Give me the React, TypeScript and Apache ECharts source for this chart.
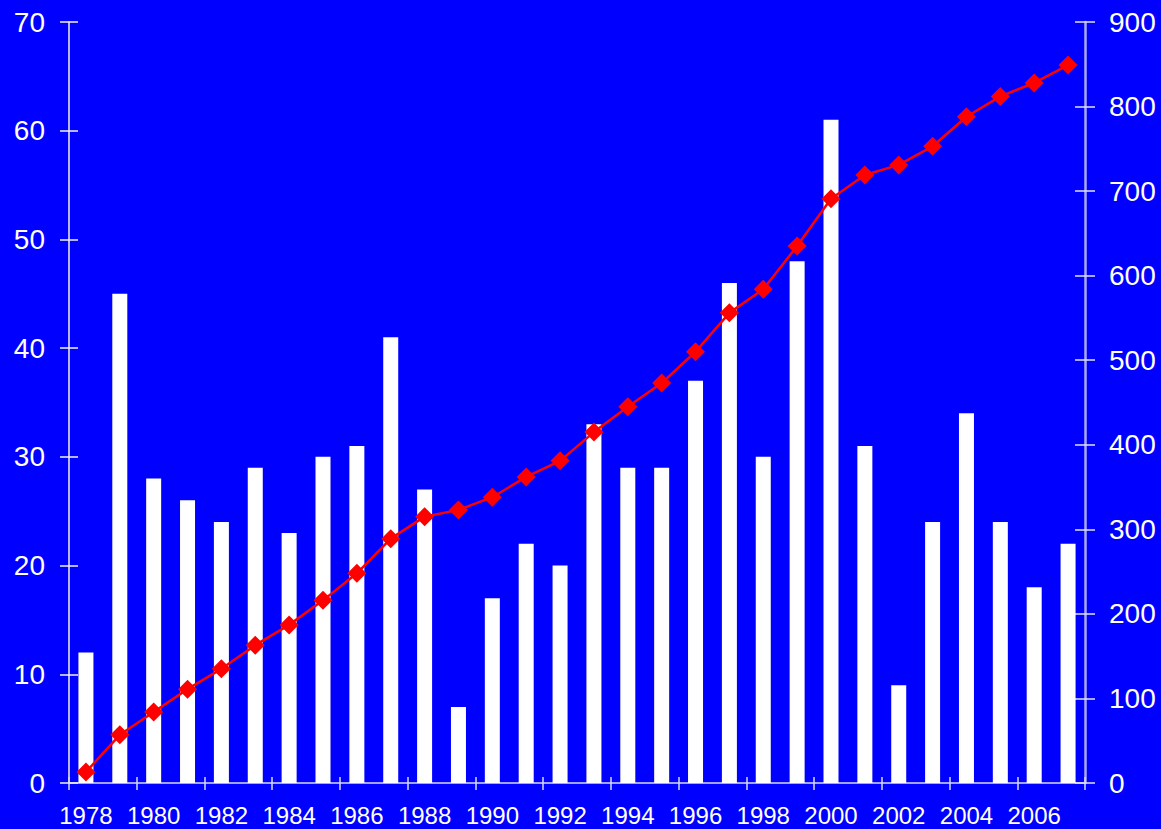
import React, { useEffect, useRef } from "react";
import * as echarts from "echarts";

const years = [
  "1978", "1979", "1980", "1981", "1982", "1983", "1984", "1985", "1986", "1987",
  "1988", "1989", "1990", "1991", "1992", "1993", "1994", "1995", "1996", "1997",
  "1998", "1999", "2000", "2001", "2002", "2003", "2004", "2005", "2006", "2007",
];

const annualValues = [
  12, 45, 28, 26, 24, 29, 23, 30, 31, 41,
  27, 7, 17, 22, 20, 33, 29, 29, 37, 46,
  30, 48, 61, 31, 9, 24, 34, 24, 18, 22,
];

const cumulativeValues = [
  13, 57, 84, 111, 135, 163, 187, 216, 248, 289,
  315, 323, 338, 362, 381, 415, 445, 473, 510, 556,
  584, 635, 691, 719, 731, 753, 788, 812, 828, 849,
];

const leftTicks = { min: 0, max: 70, interval: 10 };
const rightTicks = { min: 0, max: 900, interval: 100 };

const FONT = "'Liberation Sans', Arial, sans-serif";

export default function App() {
  const ref = useRef<HTMLDivElement>(null);

  useEffect(() => {
    document.body.style.margin = "0";
    if (!ref.current) return;
    const chart = echarts.init(ref.current, undefined, { renderer: "svg" });

    const baseX = {
      type: "category",
      data: years,
      position: "bottom",
      boundaryGap: true,
    };

    chart.setOption({
      animation: false,
      backgroundColor: "#0000FF",
      grid: { left: 69, right: 76, top: 22, bottom: 46, containLabel: false },
      xAxis: [
        {
          ...baseX,
          axisLine: { show: true, lineStyle: { color: "#D8D8FF", width: 1.5 } },
          axisTick: {
            show: true,
            interval: 1,
            length: 7,
            lineStyle: { color: "#D8D8FF", width: 1.5 },
          },
          axisLabel: {
            interval: 1,
            color: "#FFFFFF",
            fontSize: 24,
            fontFamily: FONT,
            margin: 20,
          },
          splitLine: { show: false },
        },
        {
          ...baseX,
          axisLine: { show: false },
          axisTick: {
            show: true,
            inside: true,
            interval: 1,
            length: 6,
            lineStyle: { color: "#D8D8FF", width: 1.5 },
          },
          axisLabel: { show: false },
          splitLine: { show: false },
        },
      ],
      yAxis: [
        {
          type: "value",
          position: "left",
          ...leftTicks,
          axisLine: { show: true, lineStyle: { color: "#F0F0FF", width: 1.5 } },
          axisTick: { show: true, length: 9, lineStyle: { color: "#F0F0FF", width: 1.5 } },
          axisLabel: { color: "#FFFFFF", fontSize: 28, fontFamily: FONT, margin: 24 },
          splitLine: { show: false },
        },
        {
          type: "value",
          position: "right",
          ...rightTicks,
          axisLine: { show: true, lineStyle: { color: "#A8A8FF", width: 2.5 } },
          axisTick: { show: true, length: 10, lineStyle: { color: "#E0E0FF", width: 1.5 } },
          axisLabel: { color: "#FFFFFF", fontSize: 28, fontFamily: FONT, margin: 24 },
          splitLine: { show: false },
        },
        {
          type: "value",
          position: "left",
          ...leftTicks,
          axisLine: { show: false },
          axisTick: { show: true, inside: true, length: 9, lineStyle: { color: "#F0F0FF", width: 1.5 } },
          axisLabel: { show: false },
          splitLine: { show: false },
        },
        {
          type: "value",
          position: "right",
          ...rightTicks,
          axisLine: { show: false },
          axisTick: { show: true, inside: true, length: 10, lineStyle: { color: "#E0E0FF", width: 1.5 } },
          axisLabel: { show: false },
          splitLine: { show: false },
        },
      ],
      series: [
        {
          type: "bar",
          xAxisIndex: 0,
          yAxisIndex: 0,
          data: annualValues,
          barWidth: 15,
          itemStyle: { color: "#FFFFFF" },
        },
        {
          type: "line",
          xAxisIndex: 0,
          yAxisIndex: 1,
          data: cumulativeValues,
          symbol: "diamond",
          symbolSize: [19, 19],
          lineStyle: { color: "#FF0000", width: 2.5 },
          itemStyle: { color: "#FF0000" },
        },
      ],
    });

    return () => chart.dispose();
  }, []);

  return <div ref={ref} style={{ width: 1161, height: 829 }} />;
}
